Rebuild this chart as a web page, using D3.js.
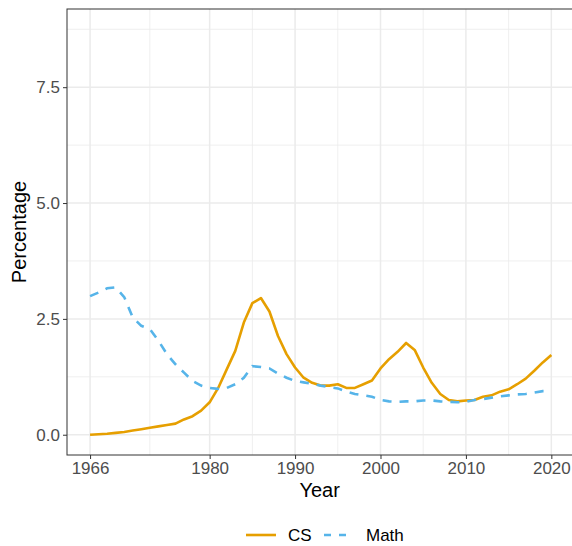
<!DOCTYPE html>
<html>
<head>
<meta charset="utf-8">
<script src="https://cdn.jsdelivr.net/npm/d3@7"></script>
<style>
  body { margin: 0; background: #fff; }
  svg { display: block; font-family: "Liberation Sans", Arial, sans-serif; }
</style>
</head>
<body>
<script>
"use strict";
const years = d3.range(1966, 2021);
const csValues = [
  0.00, 0.01, 0.02, 0.04, 0.06, 0.09, 0.12, 0.15, 0.18, 0.21,
  0.24, 0.33, 0.40, 0.52, 0.70, 1.01, 1.41, 1.81, 2.42, 2.84,
  2.95, 2.66, 2.13, 1.74, 1.45, 1.23, 1.12, 1.06, 1.06, 1.09,
  1.01, 1.01, 1.09, 1.17, 1.43, 1.63, 1.79, 1.98, 1.83, 1.45,
  1.12, 0.88, 0.75, 0.72, 0.74, 0.75, 0.82, 0.85, 0.93, 0.98,
  1.09, 1.21, 1.38, 1.56, 1.72
];
const mathValues = [
  2.99, 3.07, 3.16, 3.18, 2.97, 2.53, 2.35, 2.28, 2.03, 1.74,
  1.52, 1.34, 1.16, 1.06, 1.01, 0.99, 1.01, 1.09, 1.23, 1.48,
  1.46, 1.43, 1.32, 1.23, 1.16, 1.13, 1.10, 1.06, 1.03, 1.00,
  0.93, 0.88, 0.85, 0.82, 0.75, 0.72, 0.71, 0.72, 0.72, 0.74,
  0.74, 0.72, 0.71, 0.70, 0.71, 0.75, 0.77, 0.80, 0.83, 0.85,
  0.87, 0.88, 0.91, 0.94, 0.94
];
const xTicks = [1966, 1980, 1990, 2000, 2010, 2020];
const xMinor = [1973, 1985, 1995, 2005, 2015];
const yTicks = [0, 2.5, 5, 7.5];
const yMinor = [1.25, 3.75, 6.25, 8.75];
const seriesNames = ["CS", "Math"];
const seriesColors = ["#E69F00", "#56B4E9"];

const width = 572, height = 546;
const panel = { left: 67, top: 9, right: 574.4, bottom: 455 };

const svg = d3.select("body").append("svg")
  .attr("width", width)
  .attr("height", height);

// ggplot style expansion of 5% on both axes
const xExp = (2020 - 1966) * 0.05;
const x = d3.scaleLinear()
  .domain([1966 - xExp, 2020 + xExp])
  .range([panel.left, panel.right]);
const yExp = 8.75 * 0.05;
const y = d3.scaleLinear()
  .domain([-yExp, 8.75 + yExp])
  .range([panel.bottom, panel.top]);

const grid = svg.append("g");
grid.selectAll(".vminor").data(xMinor).enter().append("line")
  .attr("x1", d => x(d)).attr("x2", d => x(d))
  .attr("y1", panel.top).attr("y2", panel.bottom)
  .attr("stroke", "#ebebeb").attr("stroke-width", 0.8);
grid.selectAll(".hminor").data(yMinor).enter().append("line")
  .attr("x1", panel.left).attr("x2", panel.right)
  .attr("y1", d => y(d)).attr("y2", d => y(d))
  .attr("stroke", "#ebebeb").attr("stroke-width", 0.8);
grid.selectAll(".vmajor").data(xTicks).enter().append("line")
  .attr("x1", d => x(d)).attr("x2", d => x(d))
  .attr("y1", panel.top).attr("y2", panel.bottom)
  .attr("stroke", "#ebebeb").attr("stroke-width", 1.5);
grid.selectAll(".hmajor").data(yTicks).enter().append("line")
  .attr("x1", panel.left).attr("x2", panel.right)
  .attr("y1", d => y(d)).attr("y2", d => y(d))
  .attr("stroke", "#ebebeb").attr("stroke-width", 1.5);

// lines
const line = d3.line()
  .x((d, i) => x(years[i]))
  .y(d => y(d));
svg.append("path").datum(csValues)
  .attr("d", line)
  .attr("fill", "none")
  .attr("stroke", seriesColors[0])
  .attr("stroke-width", 2.6)
  .attr("stroke-linejoin", "round");
svg.append("path").datum(mathValues)
  .attr("d", line)
  .attr("fill", "none")
  .attr("stroke", seriesColors[1])
  .attr("stroke-width", 2.6)
  .attr("stroke-dasharray", "9,8");

// panel border
svg.append("rect")
  .attr("x", panel.left).attr("y", panel.top)
  .attr("width", panel.right - panel.left)
  .attr("height", panel.bottom - panel.top)
  .attr("fill", "none").attr("stroke", "#333").attr("stroke-width", 1);

// axes
const xAxis = svg.append("g")
  .attr("transform", `translate(0,${panel.bottom})`)
  .call(d3.axisBottom(x).tickValues(xTicks).tickFormat(d3.format("d")).tickSize(4).tickPadding(3));
const yAxis = svg.append("g")
  .attr("transform", `translate(${panel.left},0)`)
  .call(d3.axisLeft(y).tickValues(yTicks).tickFormat(d3.format(".1f")).tickSize(4).tickPadding(3));
[xAxis, yAxis].forEach(a => {
  a.select(".domain").remove();
  a.selectAll("line").attr("stroke", "#333");
  a.selectAll("text").attr("fill", "#4d4d4d")
    .style("font-size", "17px")
    .style("font-family", "'Liberation Sans', Arial, sans-serif");
});

svg.append("text")
  .attr("x", (panel.left + panel.right) / 2 - 1)
  .attr("y", 497)
  .attr("text-anchor", "middle")
  .style("font-size", "20px")
  .text("Year");
svg.append("text")
  .attr("transform", `translate(26,${(panel.top + panel.bottom) / 2}) rotate(-90)`)
  .attr("text-anchor", "middle")
  .style("font-size", "20px")
  .text("Percentage");

// legend
const legendX = [246, 324];
const legend = svg.append("g");
seriesNames.forEach((name, i) => {
  const g = legend.append("g").attr("transform", `translate(${legendX[i]},535)`);
  g.append("line")
    .attr("x1", 0).attr("x2", 30).attr("y1", 0).attr("y2", 0)
    .attr("stroke", seriesColors[i]).attr("stroke-width", 2.6)
    .attr("stroke-dasharray", i === 1 ? "7,8" : null);
  g.append("text")
    .attr("x", 42).attr("y", 6)
    .style("font-size", "17px")
    .text(name);
});
</script>
</body>
</html>
